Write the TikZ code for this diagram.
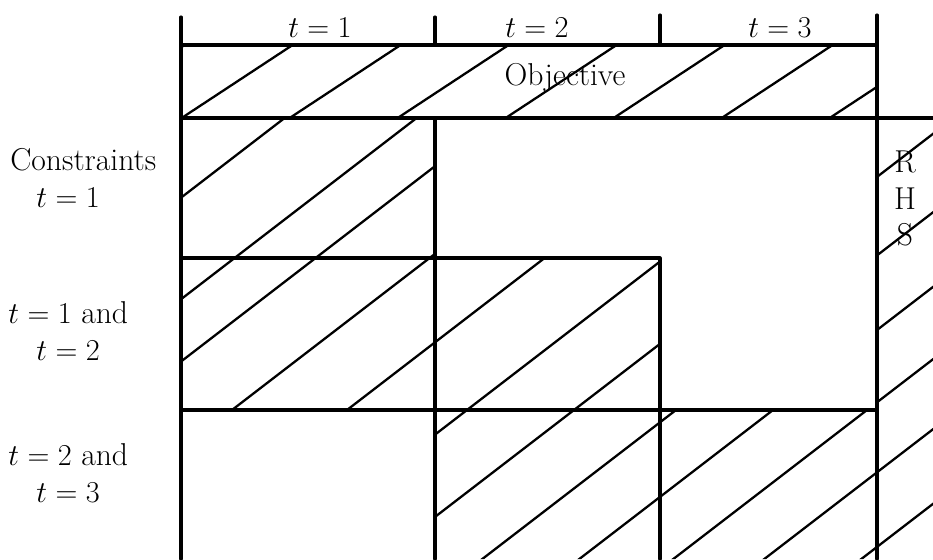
\documentclass[tikz,border=0pt]{standalone}
\begin{document}
\begin{tikzpicture}[x=0.02cm,y=-0.02cm,line cap=round,line join=round,font=\fontsize{18}{21}\selectfont,
  rule/.style={line width=1.8pt},
  hatchline/.style={line width=1.3pt},
  lbl/.style={inner sep=0pt}]
  \useasboundingbox (0,0) rectangle (933,559);
  % hatching of the objective row
  \begin{scope}
    \clip (181,45) rectangle (877,118);
    \foreach \c in {253,361,469,577,685,793,901,1009}
      \draw[hatchline] (\c,0) -- ({\c-1.52*150},150);
  \end{scope}
  % hatching of the constraint blocks and the RHS
  \begin{scope}
    \clip (181,118) rectangle (435,258) (181,258) rectangle (660,410)
          (435,410) rectangle (877,559) (877,118) rectangle (933,559);
    \foreach \c in {438,570,651,765,880,1000,1107,1209,1306,1400,1491,1588}
      \draw[hatchline] (\c,0) -- ({\c-1.3*600},600);
  \end{scope}
  % frame
  \draw[rule] (181,17) -- (181,559);
  \draw[rule] (435,17) -- (435,45);
  \draw[rule] (660,15) -- (660,45);
  \draw[rule] (877,15) -- (877,559);
  \draw[rule] (181,45) -- (877,45);
  \draw[rule] (181,118) -- (933,118);
  \draw[rule] (435,118) -- (435,559);
  \draw[rule] (181,258) -| (660,559);
  \draw[rule] (181,410) -- (877,410);
  % period labels
  \node[lbl] (per1) at (320,28) {$t=1$};
  \node[lbl] (per2) at (537,28) {$t=2$};
  \node[lbl] (per3) at (780,28) {$t=3$};
  \node[lbl] (obj) at (565,78) {Objective};
  % row labels
  \node[lbl,anchor=west] (row1a) at (10,160) {Constraints};
  \node[lbl,anchor=west] (row1b) at (36,198) {$t=1$};
  \node[lbl,anchor=west] (row2a) at (8,313) {$t=1$ and};
  \node[lbl,anchor=west] (row2b) at (36,351) {$t=2$};
  \node[lbl,anchor=west] (row3a) at (8,455) {$t=2$ and};
  \node[lbl,anchor=west] (row3b) at (36,493) {$t=3$};
  % right hand side
  \node[lbl] (rhsr) at (905,162) {R};
  \node[lbl] (rhsh) at (905,199) {H};
  \node[lbl] (rhss) at (905,235) {S};
\end{tikzpicture}
\end{document}
